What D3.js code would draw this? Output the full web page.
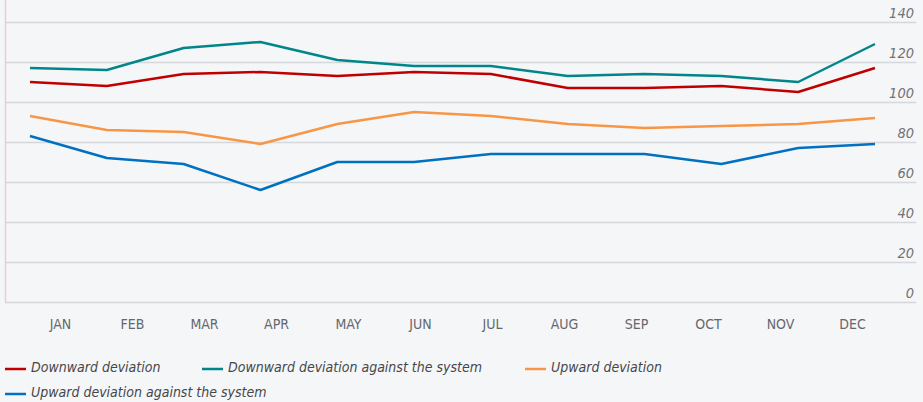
<!DOCTYPE html>
<html>
<head>
<meta charset="utf-8">
<script src="https://d3js.org/d3.v7.min.js"></script>
<style>
  body { margin: 0; background: #f5f6f8; }
  svg { display: block; }
</style>
</head>
<body>
<div id="chart"></div>
<script>
var months = ["JAN", "FEB", "MAR", "APR", "MAY", "JUN", "JUL", "AUG", "SEP", "OCT", "NOV", "DEC"];
var yTicks = [0, 20, 40, 60, 80, 100, 120, 140];

var downward = [110, 108, 114, 115, 113, 115, 114, 107, 107, 108, 105, 117];
var downwardAgainst = [117, 116, 127, 130, 121, 118, 118, 113, 114, 113, 110, 129];
var upward = [93, 86, 85, 79, 89, 95, 93, 89, 87, 88, 89, 92];
var upwardAgainst = [83, 72, 69, 56, 70, 70, 74, 74, 74, 69, 77, 79];

var seriesNames = ["Downward deviation", "Downward deviation against the system", "Upward deviation", "Upward deviation against the system"];
var seriesColors = ["#c00000", "#00868a", "#f79646", "#0070c0"];
var seriesValues = [downward, downwardAgainst, upward, upwardAgainst];

var width = 923, height = 402;
var font = "'DejaVu Sans Condensed', 'DejaVu Sans', sans-serif";

var svg = d3.select("#chart").append("svg")
    .attr("width", width)
    .attr("height", height);

var y = d3.scaleLinear().domain([0, 140]).range([302, 22]);
var xLine = d3.scalePoint().domain(months).range([30, 875]);
var xLabel = d3.scalePoint().domain(months).range([60, 852]);

// gridlines
svg.append("g")
    .selectAll("line")
    .data(yTicks)
    .enter()
    .append("line")
    .attr("x1", 5)
    .attr("x2", 916)
    .attr("y1", function (d) { return y(d) + 0.5; })
    .attr("y2", function (d) { return y(d) + 0.5; })
    .attr("stroke", "#d6d7da")
    .attr("stroke-width", 1.5);

// left border
svg.append("line")
    .attr("x1", 5.5).attr("x2", 5.5)
    .attr("y1", 0).attr("y2", 303)
    .attr("stroke", "#e6cfdc")
    .attr("stroke-width", 1.5);

// y labels
svg.append("g")
    .selectAll("text")
    .data(yTicks)
    .enter()
    .append("text")
    .attr("x", 914)
    .attr("y", function (d) { return y(d) - 4; })
    .attr("text-anchor", "end")
    .attr("font-family", font)
    .attr("font-style", "italic")
    .attr("font-size", 14.5)
    .attr("fill", "#707276")
    .text(function (d) { return d; });

// x labels
var xAxis = svg.append("g")
    .attr("transform", "translate(0,310)")
    .call(d3.axisBottom(xLabel).tickSize(0).tickPadding(0));
xAxis.select(".domain").remove();
xAxis.selectAll("text")
    .attr("dy", 0)
    .attr("y", 18.5)
    .attr("font-family", font)
    .attr("font-size", 14)
    .attr("fill", "#65676b");

// lines
var line = d3.line()
    .x(function (d, i) { return xLine(months[i]); })
    .y(function (d) { return y(d); });

seriesValues.forEach(function (vals, k) {
    svg.append("path")
        .datum(vals)
        .attr("d", line)
        .attr("fill", "none")
        .attr("stroke", seriesColors[k])
        .attr("stroke-width", 2.5)
        .attr("stroke-linejoin", "round");
});

// legend
var legendPos = [[5, 369], [202, 369], [525, 369], [5, 394]];
var legend = svg.append("g")
    .selectAll("g")
    .data(seriesNames)
    .enter()
    .append("g")
    .attr("transform", function (d, i) { return "translate(" + legendPos[i][0] + "," + legendPos[i][1] + ")"; });

legend.append("line")
    .attr("x1", 0).attr("x2", 21)
    .attr("y1", 0).attr("y2", 0)
    .attr("stroke", function (d, i) { return seriesColors[i]; })
    .attr("stroke-width", 2.5);

legend.append("text")
    .attr("x", 26)
    .attr("y", 3)
    .attr("font-family", font)
    .attr("font-style", "italic")
    .attr("font-size", 14)
    .attr("fill", "#45474b")
    .text(function (d) { return d; });
</script>
</body>
</html>
